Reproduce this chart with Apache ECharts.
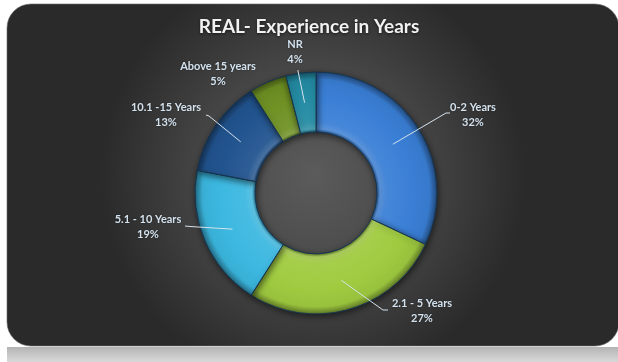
<!DOCTYPE html>
<html>
<head>
<meta charset="utf-8">
<script src="https://cdn.jsdelivr.net/npm/echarts@6/dist/echarts.min.js"></script>
<style>
  html, body { margin: 0; padding: 0; background: #ffffff; }
  #chart { width: 618px; height: 362px; }
</style>
</head>
<body>
<div id="chart"></div>
<script>
// Experience bands and their share of respondents (%)
const categories = ['0-2 Years', '2.1 - 5 Years', '5.1 - 10 Years', '10.1 -15 Years', 'Above 15 years', 'NR'];
const shares = [32, 27, 19, 13, 5, 4];
const sliceColors = ['#3a7fd6', '#a0cb40', '#3cb8e0', '#22548f', '#6f9124', '#248ca4'];

// Ring geometry
const CX = 316, CY = 193, R_IN = 61, R_OUT = 121;
// Where each two-line label block is centred, and where its leader line meets it
const labelSpots = [
  { x: 473, y: 115, leader: [[446, 113], [450, 113]] },
  { x: 422, y: 311, leader: [[383, 310], [388, 310]] },
  { x: 148, y: 227, leader: [[190, 226.5], [185, 226]] },
  { x: 166, y: 115, leader: [[209, 116], [206, 115]] },
  { x: 218, y: 74, leader: null },
  { x: 295, y: 52, leader: [[298, 71], [298, 70]] }
];

function shade(hex, f) {
  const n = parseInt(hex.slice(1), 16);
  const r = (n >> 16) & 255, g = (n >> 8) & 255, b = n & 255;
  const mix = (c) => f >= 0 ? Math.round(c + (255 - c) * f) : Math.round(c * (1 + f));
  return 'rgb(' + mix(r) + ',' + mix(g) + ',' + mix(b) + ')';
}

function ringGradient(base) {
  const k = R_IN / R_OUT;
  return {
    type: 'radial', x: CX, y: CY, r: R_OUT, global: true,
    colorStops: [
      { offset: 0, color: shade(base, -0.4) },
      { offset: k, color: shade(base, -0.35) },
      { offset: k + 0.025, color: shade(base, 0.18) },
      { offset: k + 0.08, color: shade(base, 0.06) },
      { offset: 0.8, color: base },
      { offset: 0.94, color: shade(base, -0.05) },
      { offset: 0.985, color: shade(base, -0.3) },
      { offset: 1, color: shade(base, -0.45) }
    ]
  };
}

const total = shares.reduce((a, b) => a + b, 0);
// Mid angle of each slice, clockwise from 12 o'clock (pie starts at 90deg)
const midAngles = [];
let acc = 0;
shares.forEach(v => { midAngles.push((acc + v / 2) / total * Math.PI * 2); acc += v; });

// Leader lines: from the middle of the ring at each slice's mid angle out to its label
const rMid = (R_IN + R_OUT) / 2;
const leaderLines = [];
labelSpots.forEach((spot, i) => {
  if (!spot.leader) return;
  const a = midAngles[i];
  const start = [CX + rMid * Math.sin(a), CY - rMid * Math.cos(a)];
  leaderLines.push({
    type: 'polyline', z: 100, silent: true,
    shape: { points: [start].concat(spot.leader) },
    style: { stroke: '#d4e2ec', lineWidth: 1, fill: null }
  });
});

const pieData = categories.map((name, i) => ({
  name: name,
  value: shares[i],
  itemStyle: { color: ringGradient(sliceColors[i]) }
}));

const chart = echarts.init(document.getElementById('chart'), null, { renderer: 'canvas' });

chart.setOption({
  animation: false,
  backgroundColor: '#ffffff',
  graphic: [
    {
      type: 'rect', z: -10, silent: true,
      shape: { x: 7, y: 347, width: 611, height: 20 },
      style: {
        fill: { type: 'linear', x: 0, y: 0, x2: 0, y2: 1, colorStops: [
          { offset: 0, color: '#b4b4b4' }, { offset: 0.5, color: '#cdcdcd' }, { offset: 1, color: '#e6e6e6' }
        ] }
      }
    },
    {
      type: 'rect', z: -9, silent: true,
      shape: { x: 7, y: 4, width: 612, height: 342, r: 24 },
      style: {
        fill: { type: 'radial', x: 0.5, y: 0.5, r: 0.62, colorStops: [
          { offset: 0, color: '#5b5b5b' }, { offset: 0.45, color: '#4a4a4a' }, { offset: 1, color: '#2a2a2a' }
        ] },
        stroke: '#6a6a6a', lineWidth: 0.6
      }
    }
  ].concat(leaderLines),
  title: {
    text: 'REAL- Experience in Years',
    left: 'center',
    top: 17,
    padding: [0, 0, 0, 11],
    textStyle: {
      color: '#f2f2f2', fontFamily: 'Lato', fontWeight: 'bold', fontSize: 19,
      textShadowColor: 'rgba(0,0,0,0.6)', textShadowBlur: 3, textShadowOffsetY: 1
    }
  },
  series: [{
    type: 'pie',
    radius: [R_IN, R_OUT],
    center: [CX, CY],
    startAngle: 90,
    clockwise: true,
    avoidLabelOverlap: false,
    data: pieData,
    itemStyle: {
      borderColor: '#173652', borderWidth: 1,
      shadowColor: 'rgba(0,0,0,0.55)', shadowBlur: 6, shadowOffsetX: 1, shadowOffsetY: 2
    },
    emphasis: { disabled: true },
    label: {
      show: true,
      position: 'outside',
      formatter: '{b}\n{c}%',
      color: '#d3e2ee',
      fontFamily: 'Lato',
      fontWeight: 'bold',
      fontSize: 11,
      lineHeight: 15,
      textShadowColor: 'rgba(0,0,0,0.5)', textShadowBlur: 2
    },
    labelLine: { show: false },
    labelLayout: function (params) {
      const spot = labelSpots[params.dataIndex];
      return { x: spot.x, y: spot.y, align: 'center', verticalAlign: 'middle' };
    }
  }]
});
</script>
</body>
</html>
